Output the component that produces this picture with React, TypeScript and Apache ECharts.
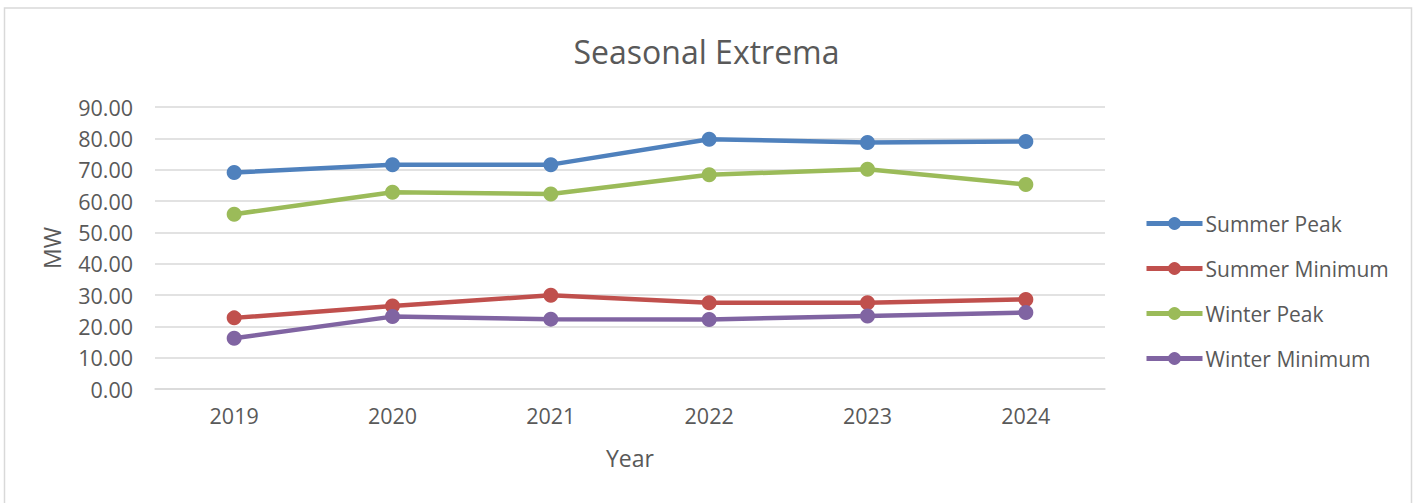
import React, { useEffect, useRef } from "react";
import * as echarts from "echarts";

const years = ["2019", "2020", "2021", "2022", "2023", "2024"];
const summerPeak = [69.1, 71.6, 71.6, 79.7, 78.7, 79.0];
const summerMinimum = [22.7, 26.5, 29.9, 27.5, 27.5, 28.6];
const winterPeak = [55.8, 62.8, 62.2, 68.4, 70.1, 65.3];
const winterMinimum = [16.2, 23.1, 22.3, 22.2, 23.3, 24.4];

const seriesNames = ["Summer Peak", "Summer Minimum", "Winter Peak", "Winter Minimum"];
const seriesColors = ["#4f81bd", "#c0504d", "#9bbb59", "#8064a2"];

const FONT = "'Open Sans', sans-serif";
const TEXT = "#595959";

export default function App() {
  const ref = useRef<HTMLDivElement>(null);
  useEffect(() => {
    if (!ref.current) return;
    const chart = echarts.init(ref.current, null, { renderer: "svg" });
    const data = [summerPeak, summerMinimum, winterPeak, winterMinimum];
    chart.setOption({
      animation: false,
      backgroundColor: "#ffffff",
      textStyle: { fontFamily: FONT },
      title: {
        text: "Seasonal Extrema",
        left: "center",
        top: 30,
        textStyle: { fontFamily: FONT, fontSize: 32, fontWeight: "normal", color: TEXT },
      },
      graphic: [
        {
          type: "rect",
          shape: { x: 4.5, y: 8, width: 1407, height: 520 },
          style: { fill: "none", stroke: "#d9d9d9", lineWidth: 1.5 },
          silent: true,
        },
      ],
      grid: { left: 155, right: 308, top: 107, bottom: 114 },
      legend: {
        orient: "vertical",
        left: 1144,
        top: 213,
        padding: 0,
        itemWidth: 56,
        itemHeight: 16,
        itemGap: 24,
        lineStyle: { width: 5 },
        textStyle: { fontFamily: FONT, fontSize: 21, color: TEXT, padding: [0, 0, 0, -2] },
        data: seriesNames,
      },
      xAxis: {
        type: "category",
        data: years,
        boundaryGap: true,
        name: "Year",
        nameLocation: "middle",
        nameGap: 57,
        nameTextStyle: { fontFamily: FONT, fontSize: 23, color: TEXT },
        axisLine: { show: true, lineStyle: { color: "#d9d9d9", width: 1.5 } },
        axisTick: { show: false },
        axisLabel: { fontFamily: FONT, fontSize: 21.5, color: TEXT, margin: 15 },
      },
      yAxis: {
        type: "value",
        min: 0,
        max: 90,
        interval: 10,
        name: "MW",
        nameLocation: "middle",
        nameGap: 92,
        nameTextStyle: { fontFamily: FONT, fontSize: 23, color: TEXT },
        axisLine: { show: false },
        axisTick: { show: false },
        splitLine: { lineStyle: { color: "#d9d9d9", width: 1.5 } },
        axisLabel: {
          fontFamily: FONT,
          fontSize: 21.5,
          color: TEXT,
          margin: 22,
          formatter: (v: number) => v.toFixed(2),
        },
      },
      series: seriesNames.map((name, i) => ({
        name,
        type: "line",
        data: data[i],
        symbol: "circle",
        symbolSize: 15,
        itemStyle: { color: seriesColors[i] },
        lineStyle: { color: seriesColors[i], width: 4.5 },
      })),
    });
    return () => chart.dispose();
  }, []);
  return (
    <div
      ref={ref}
      style={{ position: "fixed", left: 0, top: 0, width: 1413, height: 503 }}
    />
  );
}
